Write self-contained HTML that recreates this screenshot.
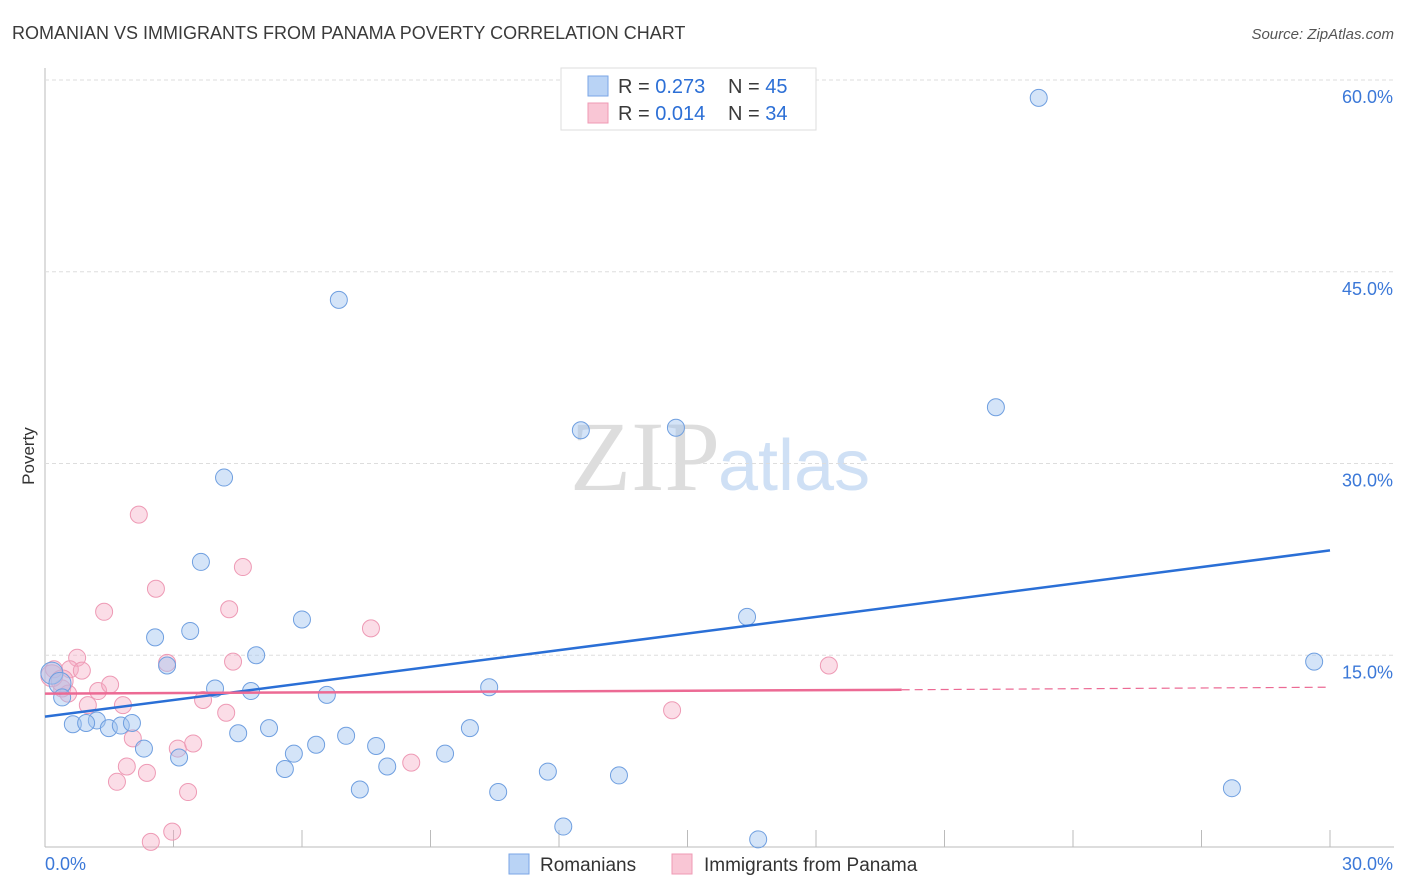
<!DOCTYPE html>
<html><head><meta charset="utf-8"><style>
body{margin:0;background:#fff;font-family:"Liberation Sans",sans-serif;}
svg{display:block}
</style></head><body>
<svg id="c" width="1406" height="892">
<text x="12" y="39" font-size="18" fill="#3a3a3a">ROMANIAN VS IMMIGRANTS FROM PANAMA POVERTY CORRELATION CHART</text>
<text x="1394" y="39" font-size="15" fill="#555" font-style="italic" text-anchor="end">Source: ZipAtlas.com</text>
<text x="34" y="456" font-size="17" fill="#333" transform="rotate(-90 34 456)" text-anchor="middle">Poverty</text>
<text x="720" y="490" font-size="100" fill="#ddd" text-anchor="end" font-family="Liberation Serif,serif">ZIP</text>
<text x="718" y="490" font-size="72" fill="#cfe0f5">atlas</text>
<g id="grid"></g><g id="pts"></g><g id="lines"></g>
<g>
<rect x="561" y="68" width="255" height="62" fill="#fff" stroke="#ddd"/>
<rect x="588" y="76" width="20" height="20" fill="#b9d3f5" stroke="#7aa6e6"/>
<rect x="588" y="103" width="20" height="20" fill="#f9c6d5" stroke="#ef9ab4"/>
<text x="618" y="93" font-size="20" fill="#3a3a3a">R = <tspan fill="#2c6fd6">0.273</tspan></text>
<text x="728" y="93" font-size="20" fill="#3a3a3a">N = <tspan fill="#2c6fd6">45</tspan></text>
<text x="618" y="120" font-size="20" fill="#3a3a3a">R = <tspan fill="#2c6fd6">0.014</tspan></text>
<text x="728" y="120" font-size="20" fill="#3a3a3a">N = <tspan fill="#2c6fd6">34</tspan></text>
</g>
<g>
<rect x="509" y="854" width="20" height="20" fill="#b9d3f5" stroke="#7aa6e6"/>
<text x="540" y="871" font-size="19" fill="#333">Romanians</text>
<rect x="672" y="854" width="20" height="20" fill="#f9c6d5" stroke="#ef9ab4"/>
<text x="704" y="871" font-size="19" fill="#333">Immigrants from Panama</text>
</g>
</svg>
<script>
const xTicks=[0,30];
const yTicks=[15,30,45,60];
const blueX=[23.2,6.86,22.2,14.73,12.51,4.18,3.64,16.39,2.57,3.39,5.999,4.93,29.63,2.85,0.16,0.35,3.97,4.81,6.58,10.37,0.4,1.21,0.65,0.96,1.49,1.77,2.03,4.51,5.23,7.03,9.92,2.31,3.13,5.81,6.33,7.73,9.34,7.99,5.6,11.74,13.4,7.35,10.58,27.71,12.1,16.65];
const blueY=[58.6,42.8,34.4,32.8,32.6,28.9,22.3,18.0,16.4,16.9,17.8,15.0,14.5,14.2,13.6,12.8,12.4,12.2,11.9,12.5,11.7,9.9,9.6,9.7,9.3,9.5,9.7,8.9,9.3,8.7,9.3,7.7,7.0,7.3,8.0,7.9,7.3,6.3,6.1,5.9,5.6,4.5,4.3,4.6,1.6,0.6];
const pinkX=[2.19,4.62,2.59,1.38,4.3,7.61,2.85,4.39,0.75,18.3,0.21,0.58,0.86,1.24,1.52,0.40,0.54,1.0,1.82,3.69,4.23,14.64,2.05,3.1,3.46,1.91,2.38,8.55,1.68,3.34,2.97,2.47,0.16,0.40];
const pinkY=[26.0,21.9,20.2,18.4,18.6,17.1,14.4,14.5,14.8,14.2,13.9,13.9,13.8,12.2,12.7,12.4,12.0,11.1,11.1,11.5,10.5,10.7,8.5,7.7,8.1,6.3,5.8,6.6,5.1,4.3,1.2,0.4,13.4,13.0];
const blueTrend=[0,10.2,30,23.2];
const pinkTrend=[0,12.0,20,12.3,30,12.5];
const X0=45,X1=1330,Y0=847,Y60=80;
const sx=v=>X0+(X1-X0)*v/30, sy=v=>Y0-(Y0-Y60)*v/60;
const NS='http://www.w3.org/2000/svg';
function mk(tag,attrs,parent){const e=document.createElementNS(NS,tag);for(const k in attrs)e.setAttribute(k,attrs[k]);parent.appendChild(e);return e;}
const g=document.getElementById('grid');
mk('line',{x1:X0,y1:68,x2:X0,y2:847,stroke:'#bbb'},g);
mk('line',{x1:X0,y1:847,x2:1394,y2:847,stroke:'#bbb'},g);
for(const t of yTicks){
 const l=mk('line',{x1:X0,y1:sy(t),x2:1394,y2:sy(t),stroke:'#ddd','stroke-dasharray':'4,3'},g);
 
 
 const tx=mk('text',{x:1393,y:sy(t)+23,'font-size':18,fill:'#3b78d8','text-anchor':'end'},g);tx.textContent=t.toFixed(1)+'%';
 
 
}
for(let i=1;i<=10;i++){const x=X0+(X1-X0)*i/10;mk('line',{x1:x,y1:830,x2:x,y2:847,stroke:'#bbb'},g);}
xTicks.forEach((t,i)=>{const tx=mk('text',{x:i?1393:45,y:870,'font-size':18,fill:'#3b78d8','text-anchor':i?'end':'start'},g);tx.textContent=t.toFixed(1)+'%';
 
 });
const p=document.getElementById('pts');
pinkX.forEach((v,i)=>{const c=mk('circle',{cx:sx(v),cy:sy(pinkY[i]),r:i>=32?11:8.5,fill:'rgba(246,170,195,0.4)',stroke:'#ee9ab5','stroke-width':1},p);
 
 });
blueX.forEach((v,i)=>{const c=mk('circle',{cx:sx(v),cy:sy(blueY[i]),r:(i==14||i==15)?11:8.5,fill:'rgba(160,195,240,0.45)',stroke:'#6f9fe0','stroke-width':1},p);
 
 });
const L=document.getElementById('lines');
const bl=mk('line',{x1:sx(blueTrend[0]),y1:sy(blueTrend[1]),x2:sx(blueTrend[2]),y2:sy(blueTrend[3]),stroke:'#2a6fd6','stroke-width':2.5},L);


const pl=mk('line',{x1:sx(pinkTrend[0]),y1:sy(pinkTrend[1]),x2:sx(pinkTrend[2]),y2:sy(pinkTrend[3]),stroke:'#ec6a94','stroke-width':2.5},L);


const pd=mk('line',{x1:sx(pinkTrend[2]),y1:sy(pinkTrend[3]),x2:sx(pinkTrend[4]),y2:sy(pinkTrend[5]),stroke:'#ec6a94','stroke-width':1.2,'stroke-dasharray':'8,5'},L);


</script>
</body></html>
